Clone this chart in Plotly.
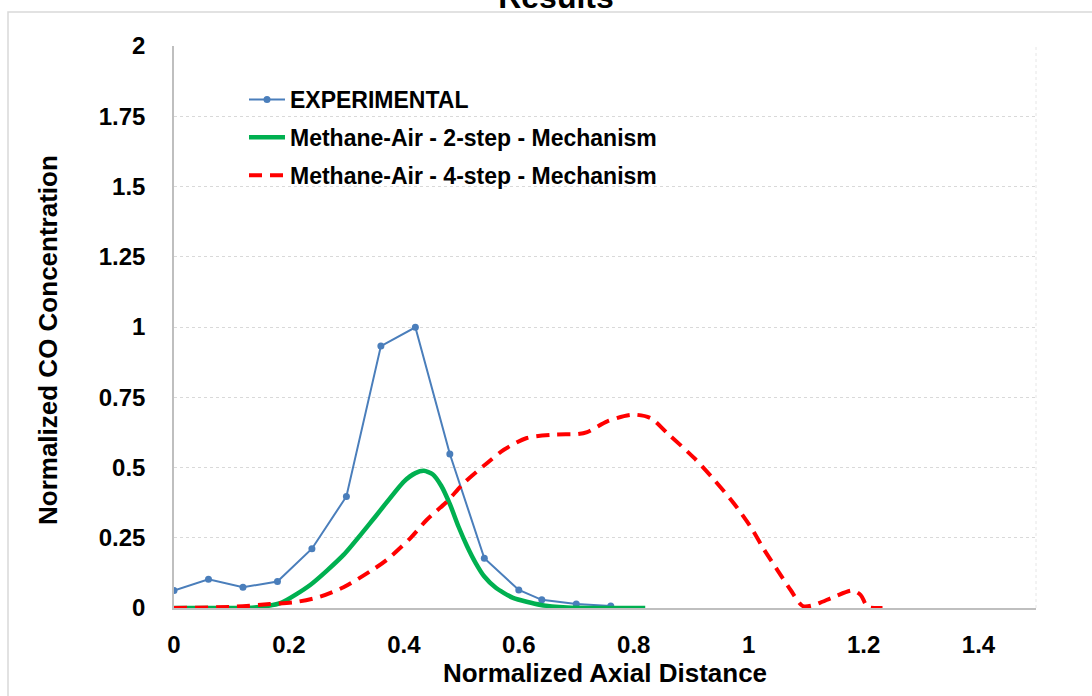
import plotly.graph_objects as go

# ---- data ----
exp_x = [0.0, 0.06, 0.12, 0.18, 0.24, 0.30, 0.36, 0.42, 0.48, 0.54, 0.60, 0.64, 0.70, 0.76]
exp_y = [0.062, 0.102, 0.074, 0.094, 0.211, 0.397, 0.932, 0.999, 0.548, 0.177, 0.064, 0.029, 0.014, 0.007]

two_x = [0.0, 0.10, 0.14, 0.185, 0.237, 0.295, 0.353, 0.400, 0.420, 0.435, 0.450, 0.465, 0.481,
         0.495, 0.510, 0.525, 0.540, 0.560, 0.590, 0.638, 0.684, 0.750, 0.820]
two_y = [0.0, 0.0, 0.002, 0.017, 0.082, 0.189, 0.332, 0.450, 0.480, 0.488, 0.476, 0.435, 0.365,
         0.290, 0.220, 0.160, 0.112, 0.072, 0.036, 0.011, 0.002, 0.0, 0.0]

four_x = [0.0, 0.109, 0.167, 0.214, 0.254, 0.295, 0.341, 0.370, 0.411, 0.440, 0.475, 0.504,
          0.545, 0.574, 0.614, 0.661, 0.702, 0.719, 0.754, 0.797, 0.829, 0.858, 0.905, 0.940,
          0.974, 1.003, 1.027, 1.050, 1.073, 1.094, 1.114, 1.149, 1.181, 1.195, 1.207, 1.233]
four_y = [0.0, 0.005, 0.014, 0.022, 0.040, 0.074, 0.130, 0.171, 0.248, 0.314, 0.379, 0.444,
          0.516, 0.563, 0.605, 0.617, 0.619, 0.626, 0.664, 0.688, 0.676, 0.623, 0.534, 0.456,
          0.373, 0.290, 0.207, 0.135, 0.064, 0.007, 0.011, 0.040, 0.062, 0.046, 0.005, 0.0]

x_ticks = [0, 0.2, 0.4, 0.6, 0.8, 1.0, 1.2, 1.4]
x_ticklabels = ["0", "0.2", "0.4", "0.6", "0.8", "1", "1.2", "1.4"]
y_ticks = [0, 0.25, 0.5, 0.75, 1.0, 1.25, 1.5, 1.75, 2.0]
y_ticklabels = ["0", "0.25", "0.5", "0.75", "1", "1.25", "1.5", "1.75", "2"]

FONT = "Liberation Sans, Arial, sans-serif"

fig = go.Figure()
fig.add_trace(go.Scatter(
    x=exp_x, y=exp_y, mode="lines+markers", name="EXPERIMENTAL",
    line=dict(color="#4A7EBB", width=2), marker=dict(color="#4A7EBB", size=7),
    legendgroup="a"))
fig.add_trace(go.Scatter(
    x=two_x, y=two_y, mode="lines", name="Methane-Air - 2-step - Mechanism",
    line=dict(color="#00B050", width=4.5, shape="spline", smoothing=0.6),
    legendgroup="b"))
fig.add_trace(go.Scatter(
    x=four_x, y=four_y, mode="lines", name="Methane-Air - 4-step - Mechanism",
    line=dict(color="#FF0000", width=4, dash="13px,8px", shape="spline", smoothing=0.8),
    legendgroup="c"))

W, H = 1092, 696
L, R, T, B = 174, 56, 46, 88
pw, ph = W - L - R, H - T - B

def px_to_paper_x(px):
    return (px - L) / pw

def px_to_paper_y(py):
    return (H - B - py) / ph

fig.update_layout(
    width=W, height=H,
    margin=dict(l=L, r=R, t=T, b=B, autoexpand=False),
    paper_bgcolor="white", plot_bgcolor="white",
    font=dict(family=FONT, color="black"),
    title=dict(text="Results", x=556 / W, xanchor="center", xref="container",
               yref="container", y=1 - 8 / H, yanchor="bottom",
               font=dict(family=FONT, size=32, weight="bold", color="black")),
    showlegend=True,
    legend=dict(x=px_to_paper_x(244), xanchor="left", y=px_to_paper_y(78), yanchor="top",
                bgcolor="rgba(0,0,0,0)", tracegroupgap=5,
                font=dict(family=FONT, size=23, weight="bold", color="black"),
                itemwidth=36),
    xaxis=dict(range=[0, 1.5], tickvals=x_ticks, ticktext=x_ticklabels,
               showgrid=False, zeroline=False, showline=True, linecolor="#BFBFBF", linewidth=1.5,
               ticks="", ticklabelstandoff=14,
               tickfont=dict(family=FONT, size=24, weight="bold", color="black"),
               title=dict(text="Normalized Axial Distance", standoff=5,
                          font=dict(family=FONT, size=26, weight="bold", color="black"))),
    yaxis=dict(range=[0, 2], tickvals=y_ticks, ticktext=y_ticklabels,
               showgrid=True, gridcolor="#D9D9D9", griddash="dot", gridwidth=1,
               zeroline=False, showline=True, linecolor="#BFBFBF", linewidth=1.5,
               ticks="", ticklabelstandoff=22,
               tickfont=dict(family=FONT, size=24, weight="bold", color="black")),
    annotations=[
        dict(text="Normalized CO Concentration", textangle=-90, showarrow=False,
             xref="paper", yref="paper", x=px_to_paper_x(48), y=px_to_paper_y(340),
             xanchor="center", yanchor="middle",
             font=dict(family=FONT, size=26, weight="bold", color="black")),
    ],
    shapes=[
        # outer chart border
        dict(type="rect", xref="paper", yref="paper",
             x0=px_to_paper_x(8), x1=px_to_paper_x(1110),
             y0=px_to_paper_y(710), y1=px_to_paper_y(12),
             line=dict(color="#D9D9D9", width=1.5), layer="below"),
        # faint right edge of plot area
        dict(type="line", xref="paper", yref="paper", x0=1, x1=1, y0=0, y1=1,
             line=dict(color="#E6E6E6", width=1, dash="dot"), layer="below"),
    ],
)

fig.write_html("out.html")
